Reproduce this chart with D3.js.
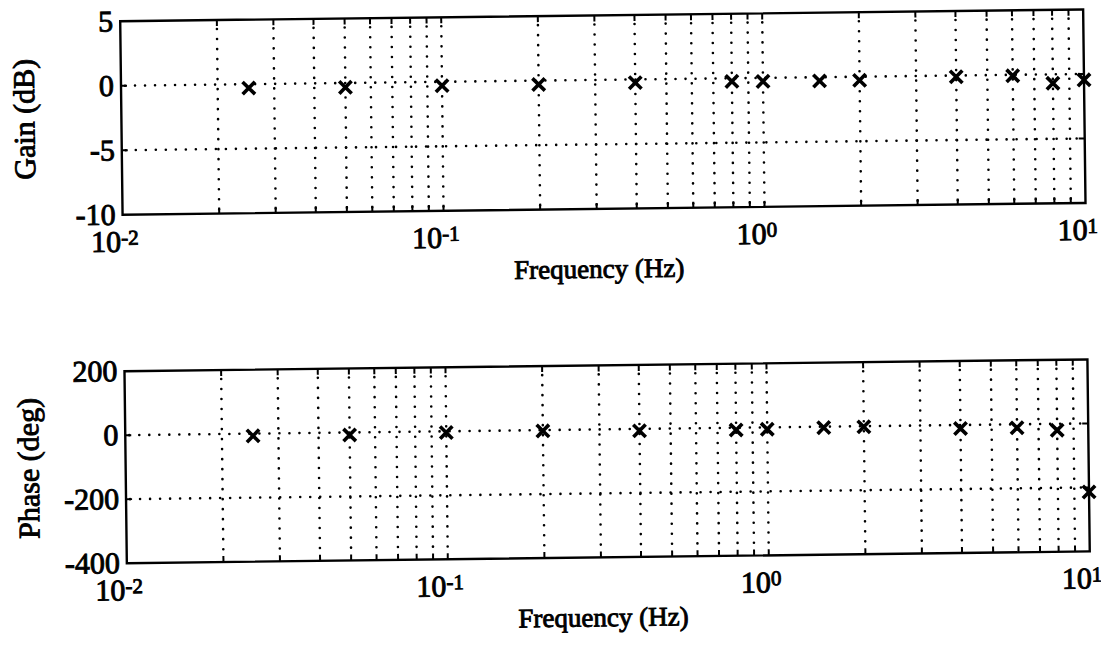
<!DOCTYPE html>
<html>
<head>
<meta charset="utf-8">
<script src="https://cdn.jsdelivr.net/npm/d3@7"></script>
<style>
  html, body { margin: 0; padding: 0; background: #fff; }
  svg { display: block; }
  text { font-family: "Liberation Serif", "Tinos", "Times New Roman", serif; fill: #000; }
</style>
</head>
<body>
<svg id="chart" width="1101" height="658"></svg>
<script>
// Measured frequency response: test frequencies and the gain / phase at each
const frequency = [0.025, 0.05, 0.1, 0.2, 0.4, 0.8, 1.0, 1.5, 2, 4, 6, 8, 10];
const gainDb    = [-0.3, -0.34, -0.3, -0.3, -0.25, -0.24, -0.27, -0.29, -0.28, -0.1, -0.07, -0.69, -0.46];
const phaseDeg  = [-7, -8, -4, -2.5, -6, -7, -6, -3, -2, -11, -11, -20, -214];

// Axis ticks
const freqDecades = [1e-2, 1e-1, 1e0, 1e1];
const decadeExp   = ["-2", "-1", "0", "1"];
const gainTicks   = [5, 0, -5, -10];
const phaseTicks  = [200, 0, -200, -400];

const W = 1101, H = 658;
const svg = d3.select("#chart");
// the printed page sits slightly askew
const page = svg.append("g").attr("transform", `rotate(-0.7, ${W / 2}, ${H / 2})`);

const left = 124, right = 1087;
const tickFont = 30, titleFont = 27, yTitleFont = 30, expFont = 21;
const ink = 0.9; // heavier print stroke on glyphs

// every 1..9 multiple of each decade, for the grid
const gridFreqs = [];
for (let e = -2; e < 1; e++) for (let m = 1; m <= 9; m++) gridFreqs.push(m * Math.pow(10, e));
const innerFreqs = gridFreqs.filter(f => f > 1e-2 && f < 1e1);

const panels = [
  { top: 16,  bottom: 209.5, domain: [-10, 5],    ticks: gainTicks,  grid: [0, -5],   values: gainDb,   ylabel: "Gain (dB)" },
  { top: 366, bottom: 558,   domain: [-400, 200], ticks: phaseTicks, grid: [0, -200], values: phaseDeg, ylabel: "Phase (deg)" }
];

panels.forEach(p => {
  const x = d3.scaleLog().domain([1e-2, 1e1]).range([left, right]);
  const y = d3.scaleLinear().domain(p.domain).range([p.bottom, p.top]);
  const g = page.append("g");

  // dotted grid
  const dotted = sel => sel
    .attr("stroke", "#000").attr("stroke-width", 2.6)
    .attr("stroke-linecap", "round").attr("stroke-dasharray", "0.01 10");
  g.selectAll(".vgrid").data(innerFreqs).join("line")
    .attr("x1", d => x(d)).attr("x2", d => x(d))
    .attr("y1", p.top + 9).attr("y2", p.bottom - 4)
    .call(dotted);
  g.selectAll(".hgrid").data(p.grid).join("line")
    .attr("x1", left + 4).attr("x2", right - 4)
    .attr("y1", d => y(d)).attr("y2", d => y(d))
    .call(dotted);

  // inward ticks on all four edges
  const tickLen = 6;
  const solid = sel => sel.attr("stroke", "#000").attr("stroke-width", 2);
  g.selectAll(".tt").data(innerFreqs).join("line")
    .attr("x1", d => x(d)).attr("x2", d => x(d))
    .attr("y1", p.top).attr("y2", p.top + tickLen).call(solid);
  g.selectAll(".tb").data(innerFreqs).join("line")
    .attr("x1", d => x(d)).attr("x2", d => x(d))
    .attr("y1", p.bottom).attr("y2", p.bottom - tickLen).call(solid);
  g.selectAll(".tr").data(p.grid).join("line")
    .attr("x1", right).attr("x2", right - tickLen)
    .attr("y1", d => y(d)).attr("y2", d => y(d)).call(solid);
  g.selectAll(".tl").data(p.grid).join("line")
    .attr("x1", left).attr("x2", left + tickLen)
    .attr("y1", d => y(d)).attr("y2", d => y(d)).call(solid);

  // frame
  g.append("rect")
    .attr("x", left).attr("y", p.top)
    .attr("width", right - left).attr("height", p.bottom - p.top)
    .attr("fill", "none").attr("stroke", "#000").attr("stroke-width", 2.4);

  // y tick labels
  g.selectAll(".ylab").data(p.ticks).join("text")
    .attr("x", left - 7).attr("y", d => y(d))
    .attr("dy", "0.33em")
    .attr("text-anchor", "end")
    .attr("font-size", tickFont)
    .attr("stroke", "#000").attr("stroke-width", ink)
    .text(d => d);

  // x tick labels: 10 with a raised exponent
  const xl = g.selectAll(".xlab").data(freqDecades).join("text")
    .attr("x", d => x(d) - 8).attr("y", p.bottom + 37)
    .attr("text-anchor", "middle")
    .attr("font-size", tickFont)
    .attr("stroke", "#000").attr("stroke-width", ink);
  xl.append("tspan").text("10");
  xl.append("tspan").attr("dy", -7).attr("font-size", expFont).text((d, i) => decadeExp[i]);

  // axis titles
  g.append("text")
    .attr("x", 600).attr("y", p.bottom + 69)
    .attr("text-anchor", "middle")
    .attr("font-size", titleFont)
    .attr("stroke", "#000").attr("stroke-width", ink)
    .text("Frequency (Hz)");
  g.append("text")
    .attr("transform", `translate(37, ${(p.top + p.bottom) / 2}) rotate(-90)`)
    .attr("text-anchor", "middle")
    .attr("font-size", yTitleFont)
    .attr("stroke", "#000").attr("stroke-width", ink)
    .text(p.ylabel);

  // measured points as x marks
  const r = 6.2;
  g.selectAll(".pt").data(frequency.map((f, i) => [f, p.values[i]])).join("path")
    .attr("transform", d => `translate(${x(d[0])}, ${y(d[1])})`)
    .attr("d", `M${-r},${-r}L${r},${r}M${-r},${r}L${r},${-r}`)
    .attr("stroke", "#000").attr("stroke-width", 3.6).attr("fill", "none");
});
</script>
</body>
</html>
